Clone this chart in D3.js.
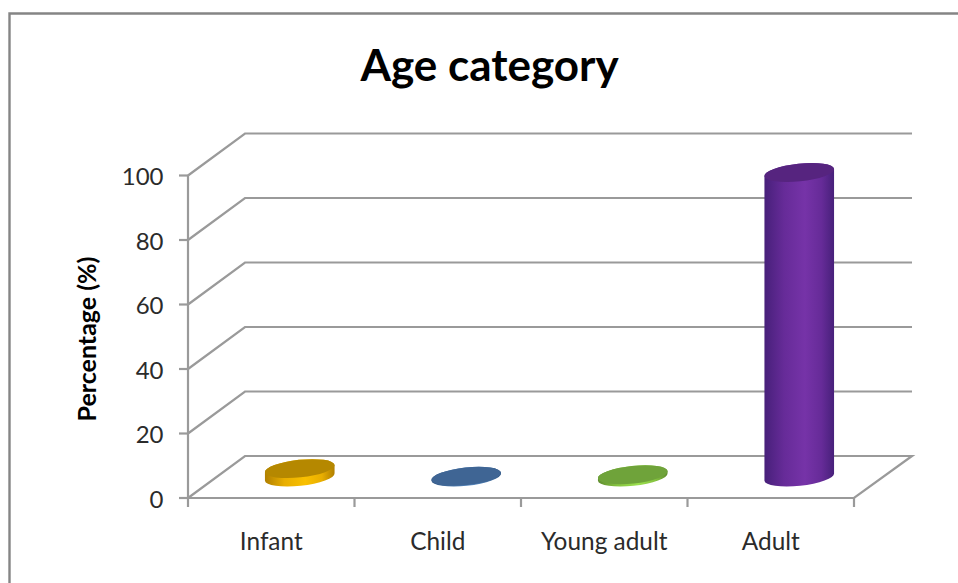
<!DOCTYPE html>
<html>
<head>
<meta charset="utf-8">
<script src="https://cdn.jsdelivr.net/npm/d3@7"></script>
<style>
  html, body { margin: 0; padding: 0; background: #fff; }
  svg { display: block; }
  text { font-family: Lato, "Open Sans", sans-serif; fill: #2b2b2b; }
</style>
</head>
<body>
<svg id="chart" width="958" height="583"></svg>
<script>
// Chart content
const chartTitle = "Age category";
const yAxisTitle = "Percentage (%)";
const categories = ["Infant", "Child", "Young adult", "Adult"];
const percentages = [2.6, 0.2, 0.7, 94.4];
const yTicks = [0, 20, 40, 60, 80, 100];

// Per-category cylinder shades: dark edge, mid, light highlight, top cap
const sideShades = [
  ["#b07f00", "#e8ae00", "#f9c000"],
  ["#2f5480", "#4a78ab", "#5a8cc4"],
  ["#5f8c2e", "#86c440", "#9be04e"],
  ["#47207a", "#662b98", "#7633a8"]
];
const capFills = ["#b58800", "#3f6594", "#6fa33a", "#56247f"];

const svg = d3.select("#chart");
const gridColor = "#9a9a9a";

// Frame around the chart; it runs off the right and bottom of the page
svg.append("path")
  .attr("d", "M9.5,583V13.5H958")
  .attr("fill", "none").attr("stroke", "#858585").attr("stroke-width", 2.4);

// Front plane scales; the back wall is the same plane pushed by the depth offset
const x = d3.scaleBand().domain(categories).range([188, 854]);
const y = d3.scaleLinear().domain([0, 100]).range([498, 175.5]);
const depth = { dx: 57, dy: -42 };

const plot = svg.append("g").attr("fill", "none")
  .attr("stroke", gridColor).attr("stroke-width", 2.2);

// Back-wall gridlines, each with its slanted connector on the side wall
yTicks.filter(t => t > 0).forEach(t => {
  const yy = y(t);
  plot.append("path")
    .attr("d", `M${x.range()[0]},${yy}L${x.range()[0] + depth.dx},${yy + depth.dy}H${x.range()[1] + depth.dx + 1}`);
});

// Floor outline
plot.append("path").attr("d", d3.line()([
  [x.range()[0], y(0)],
  [x.range()[0] + depth.dx, y(0) + depth.dy],
  [x.range()[1] + depth.dx + 1, y(0) + depth.dy],
  [x.range()[1], y(0)],
  [x.range()[0], y(0)]
]));

// Value axis and its ticks
plot.append("path").attr("d", `M${x.range()[0]},${y(100)}V${y(0)}`);
yTicks.forEach(t => {
  plot.append("path").attr("d", `M${x.range()[0] - 9},${y(t)}H${x.range()[0]}`);
});

// Category axis ticks, on band boundaries
[...categories.map(c => x(c)), x.range()[1]].forEach(px => {
  plot.append("path").attr("d", `M${px},${y(0)}v9`);
});

// Cylinders stand halfway into the floor depth
const defs = svg.append("defs");
const rx = 35, ry = 8.8, tilt = -6;
const cylinders = svg.append("g");

categories.forEach((c, i) => {
  const cx = x(c) + x.bandwidth() / 2 + depth.dx / 2;
  const baseY = y(0) + depth.dy / 2;
  const topY = y(percentages[i]) + depth.dy / 2;
  const [edge, mid, light] = sideShades[i];

  const grad = defs.append("linearGradient").attr("id", `side${i}`);
  [[0, edge], [0.28, mid], [0.58, light], [0.82, mid], [1, edge]].forEach(([o, col]) => {
    grad.append("stop").attr("offset", o).attr("stop-color", col);
  });

  // End points of the tilted ellipse's horizontal extent
  const a = tilt * Math.PI / 180;
  const ex = rx * Math.cos(a), ey = rx * Math.sin(a);

  cylinders.append("path")
    .attr("d",
      `M${cx - ex},${topY - ey}` +
      `L${cx - ex},${baseY - ey}` +
      `A${rx},${ry} ${tilt} 0 0 ${cx + ex},${baseY + ey}` +
      `L${cx + ex},${topY + ey}` +
      `A${rx},${ry} ${tilt} 0 0 ${cx - ex},${topY - ey}Z`)
    .attr("fill", `url(#side${i})`);

  cylinders.append("ellipse")
    .attr("cx", cx).attr("cy", topY)
    .attr("rx", rx).attr("ry", ry)
    .attr("transform", `rotate(${tilt} ${cx} ${topY})`)
    .attr("fill", capFills[i]);
});

// Axis labels
const labels = svg.append("g");
yTicks.forEach(t => {
  labels.append("text")
    .attr("x", 163.5).attr("y", y(t) + 9.5)
    .attr("text-anchor", "end").attr("font-size", 24).text(t);
});
categories.forEach(c => {
  labels.append("text")
    .attr("x", x(c) + x.bandwidth() / 2).attr("y", 550)
    .attr("text-anchor", "middle").attr("font-size", 24.4).text(c);
});

// Titles
labels.append("text")
  .attr("x", 489.5).attr("y", 81)
  .attr("text-anchor", "middle").attr("font-size", 44).attr("font-weight", 700)
  .style("fill", "#000").text(chartTitle);
labels.append("text")
  .attr("transform", "translate(96,339) rotate(-90)")
  .attr("text-anchor", "middle").attr("font-size", 25).attr("font-weight", 700)
  .style("fill", "#000").text(yAxisTitle);
</script>
</body>
</html>
